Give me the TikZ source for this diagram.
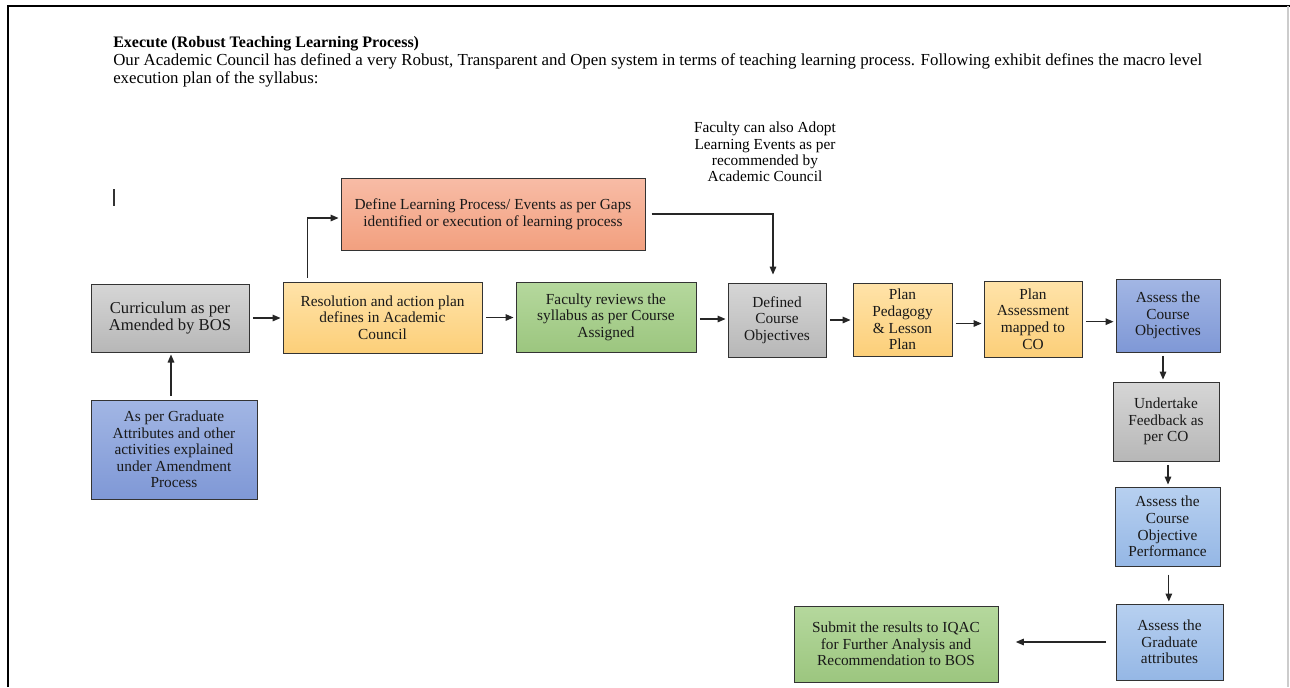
\documentclass[tikz,border=0pt]{standalone}
\usepackage{fontspec}
\setmainfont{Liberation Serif}
\usetikzlibrary{arrows.meta}
\definecolor{gtop}{HTML}{D6D6D6}\definecolor{gbot}{HTML}{B7B7B7}
\definecolor{ytop}{HTML}{FFE3A9}\definecolor{ybot}{HTML}{FCCF79}
\definecolor{stop}{HTML}{F8BCA6}\definecolor{sbot}{HTML}{F2A07F}
\definecolor{ntop}{HTML}{B5D89D}\definecolor{nbot}{HTML}{9CC67F}
\definecolor{btop}{HTML}{A2B6E4}\definecolor{bbot}{HTML}{7F98D6}
\definecolor{ltop}{HTML}{B7D0F0}\definecolor{lbot}{HTML}{95B7E5}
\begin{document}
\begin{tikzpicture}[x=0.75pt,y=-0.75pt,
  box/.style={draw=black!80, line width=0.75pt, align=center, inner sep=0pt,
    font=\fontsize{11.5}{12.4}\selectfont, text=black!90},
  mw/.style={minimum width=#1*0.75pt},
  mh/.style={minimum height=#1*0.75pt},
  grayb/.style={top color=gtop, bottom color=gbot},
  yelb/.style={top color=ytop, bottom color=ybot},
  salb/.style={top color=stop, bottom color=sbot},
  grnb/.style={top color=ntop, bottom color=nbot},
  blub/.style={top color=btop, bottom color=bbot},
  ltbb/.style={top color=ltop, bottom color=lbot},
  arr/.style={draw=black!85, line width=0.8pt, -{Triangle[length=6pt,width=5pt]},
    shorten <=2.5pt, shorten >=1.5pt}]
\useasboundingbox (0,0) rectangle (1290,687);
% frame
\draw[black, line width=2pt] (8,687) -- (8,6) -- (1290,6);
\draw[black!20, line width=1pt] (1288,6) -- (1288,687);
% heading text
\node[anchor=base west, inner sep=0pt, font=\fontsize{12}{14}\selectfont\bfseries] (title) at (113,47) {Execute (Robust Teaching Learning Process)};
\node[anchor=base west, inner sep=0pt, font=\fontsize{12.65}{14}\selectfont] (body1) at (113,65) {Our Academic Council has defined a very Robust, Transparent and Open system in terms of teaching learning process. Following exhibit defines the macro level};
\node[anchor=base west, inner sep=0pt, font=\fontsize{12.6}{14}\selectfont] (body2) at (113,83) {execution plan of the syllabus:};
% cursor mark
\draw[black!80, line width=1pt] (114,189) -- (114,206);
% note
\node[align=center, inner sep=0pt, font=\fontsize{11.5}{12.3}\selectfont] (note) at (765,152) {Faculty can also Adopt\\Learning Events as per\\recommended by\\Academic Council};
% boxes
\node[box,grayb,mw=158,mh=68,font=\fontsize{12.5}{13}\selectfont] (cur) at (170,318) {Curriculum as per\\Amended by BOS};
\node[box,blub,mw=166,mh=99] (grad) at (174,449.5) {As per Graduate\\Attributes and other\\activities explained\\under Amendment\\Process};
\node[box,yelb,mw=199,mh=71] (res) at (382.5,317.5) {Resolution and action plan\\defines in Academic\\Council};
\node[box,salb,mw=304,mh=72] (def) at (493,214) {Define Learning Process/ Events as per Gaps\\identified or execution of learning process};
\node[box,grnb,mw=180,mh=70] (fac) at (606,317) {Faculty reviews the\\syllabus as per Course\\Assigned};
\node[box,grayb,mw=98,mh=74] (dco) at (777,320) {Defined\\Course\\Objectives};
\node[box,yelb,mw=99,mh=73] (ped) at (902.5,319.5) {Plan\\Pedagogy\\\& Lesson\\Plan};
\node[box,yelb,mw=98,mh=76] (pam) at (1033,319) {Plan\\Assessment\\mapped to\\CO};
\node[box,blub,mw=104,mh=73] (aco) at (1168,315.5) {Assess the\\Course\\Objectives};
\node[box,grayb,mw=106,mh=79] (und) at (1166,421.5) {Undertake\\Feedback as\\per CO};
\node[box,ltbb,mw=105,mh=79] (perf) at (1167.5,526.5) {Assess the\\Course\\Objective\\Performance};
\node[box,ltbb,mw=107,mh=76] (gat) at (1169.5,642) {Assess the\\Graduate\\attributes};
\node[box,grnb,mw=204,mh=76] (sub) at (896,644) {Submit the results to IQAC\\for Further Analysis and\\Recommendation to BOS};
% connectors
\draw[arr] ([xshift=-2.25pt]grad.north) -- ([xshift=-2.25pt]grad.north |- cur.south);
\draw[arr] (cur.east) -- (cur.east -| res.west);
\draw[arr,shorten <=3pt] ([xshift=18.75pt]res.north west) |- ([yshift=-3pt]def.west);
\draw[arr,shorten <=4.5pt,shorten >=6pt] (def.east) -| ([xshift=-3pt]dco.north);
\draw[arr] (res.east) -- (res.east -| fac.west);
\draw[arr] ([yshift=-1.5pt]fac.east) -- ([yshift=-1.5pt]fac.east -| dco.west);
\draw[arr] (dco.east) -- (dco.east -| ped.west);
\draw[arr] ([yshift=-3pt]ped.east) -- ([yshift=-3pt]ped.east -| pam.west);
\draw[arr] ([yshift=-2pt]pam.east) -- ([yshift=-2pt]pam.east -| aco.west);
\draw[arr] ([xshift=-3.75pt]aco.south) -- ([xshift=-3.75pt]aco.south |- und.north);
\draw[arr] ([xshift=1.5pt]und.south) -- ([xshift=1.5pt]und.south |- perf.north);
\draw[arr,shorten <=6pt] ([xshift=1pt]perf.south) -- ([xshift=1pt]perf.south |- gat.north);
\draw[arr,shorten <=7pt,shorten >=13pt] (gat.west) -- (gat.west -| sub.east);
\end{tikzpicture}
\end{document}
